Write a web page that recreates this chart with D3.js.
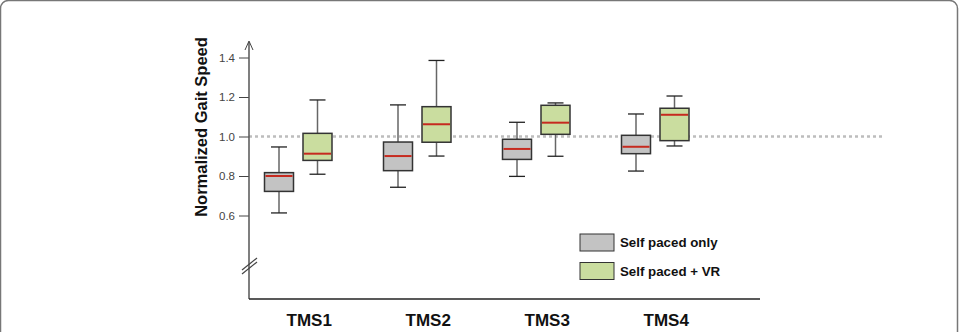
<!DOCTYPE html>
<html lang="en">
<head>
<meta charset="UTF-8">
<title>Normalized Gait Speed</title>
<script src="https://cdn.jsdelivr.net/npm/d3@7"></script>
<style>
  html, body { margin: 0; padding: 0; background: #fff; }
  svg { display: block; font-family: "Liberation Sans", Arial, sans-serif; }
  .tick text { font-size: 11.5px; fill: #444; }
  .tick line { stroke: #444; }
</style>
</head>
<body>
<svg id="chart" width="961" height="332"></svg>
<script>
// data
const categories = ['TMS1', 'TMS2', 'TMS3', 'TMS4']
const series = ['Self paced only', 'Self paced + VR']
const colors = ['#c3c3c3', '#cadd9f']
const yTicks = [0.6, 0.8, 1.0, 1.2, 1.4]

// whisker low, q1, median, q3, whisker high
const selfLow = [0.613, 0.743, 0.798, 0.825]
const selfQ1 = [0.722, 0.827, 0.884, 0.913]
const selfMed = [0.800, 0.901, 0.937, 0.948]
const selfQ3 = [0.817, 0.972, 0.986, 1.006]
const selfHigh = [0.947, 1.160, 1.072, 1.114]

const vrLow = [0.809, 0.901, 0.900, 0.952]
const vrQ1 = [0.879, 0.971, 1.011, 0.979]
const vrMed = [0.913, 1.062, 1.070, 1.110]
const vrQ3 = [1.016, 1.151, 1.158, 1.143]
const vrHigh = [1.185, 1.385, 1.170, 1.205]

const stats = [
  { low: selfLow, q1: selfQ1, med: selfMed, q3: selfQ3, high: selfHigh },
  { low: vrLow, q1: vrQ1, med: vrMed, q3: vrQ3, high: vrHigh }
]

const svg = d3.select('#chart')

// outer frame
svg.append('rect')
  .attr('x', 0.5).attr('y', 0.5)
  .attr('width', 957).attr('height', 345)
  .attr('rx', 8)
  .attr('fill', 'none')
  .attr('stroke', '#777')
  .attr('stroke-width', 1.5)

const axisX = 249
const axisBottom = 299

const y = d3.scaleLinear()
  .domain([0.6, 1.4])
  .range([215.5, 57.5])

const x = d3.scaleBand()
  .domain(categories)
  .range([259.75, 259.75 + 4 * 119])

const sub = d3.scaleBand()
  .domain(series)
  .range([0, 77])

const boxW = 29
const capW = 16

// reference line at 1.0
svg.append('line')
  .attr('x1', axisX).attr('x2', 885)
  .attr('y1', y(1)).attr('y2', y(1))
  .attr('stroke', '#bdbdbd')
  .attr('stroke-width', 2.5)
  .attr('stroke-dasharray', '3,3')

// y axis
const yAxis = d3.axisLeft(y)
  .tickValues(yTicks)
  .tickFormat(d3.format('.1f'))
  .tickSize(10)
  .tickPadding(4)

const yg = svg.append('g')
  .attr('transform', `translate(${axisX},0)`)
  .call(yAxis)
yg.select('.domain').remove()

svg.append('line')
  .attr('x1', axisX).attr('x2', axisX)
  .attr('y1', 42).attr('y2', axisBottom)
  .attr('stroke', '#555')
  .attr('stroke-width', 1.5)

// arrow head
svg.append('path')
  .attr('d', `M${axisX - 4},${50} L${axisX},${41} L${axisX + 4},${50}`)
  .attr('fill', 'none')
  .attr('stroke', '#444')
  .attr('stroke-width', 1)

// axis break
const br = svg.append('g').attr('stroke', '#444').attr('stroke-width', 1.2)
br.append('line').attr('x1', 242).attr('y1', 270).attr('x2', 257).attr('y2', 258)
br.append('line').attr('x1', 242).attr('y1', 274).attr('x2', 257).attr('y2', 262)

// x axis line
svg.append('line')
  .attr('x1', axisX).attr('x2', 760)
  .attr('y1', axisBottom).attr('y2', axisBottom)
  .attr('stroke', '#222')
  .attr('stroke-width', 1.5)

// y label
svg.append('text')
  .attr('transform', `translate(207,127) rotate(-90)`)
  .attr('text-anchor', 'middle')
  .attr('font-size', 16.5)
  .attr('font-weight', 'bold')
  .attr('fill', '#111')
  .text('Normalized Gait Speed')

// boxes
series.forEach((s, si) => {
  const st = stats[si]
  const g = svg.append('g')
  categories.forEach((c, i) => {
    const cx = x(c) + sub(s) + sub.bandwidth() / 2
    // whiskers
    g.append('line')
      .attr('x1', cx).attr('x2', cx)
      .attr('y1', y(st.high[i])).attr('y2', y(st.low[i]))
      .attr('stroke', '#666').attr('stroke-width', 1.5)
    ;[st.high[i], st.low[i]].forEach(v => {
      g.append('line')
        .attr('x1', cx - capW / 2).attr('x2', cx + capW / 2)
        .attr('y1', y(v)).attr('y2', y(v))
        .attr('stroke', '#222').attr('stroke-width', 1.3)
    })
    g.append('rect')
      .attr('x', cx - boxW / 2)
      .attr('y', y(st.q3[i]))
      .attr('width', boxW)
      .attr('height', y(st.q1[i]) - y(st.q3[i]))
      .attr('fill', colors[si])
      .attr('stroke', '#333')
      .attr('stroke-width', 1.5)
    g.append('line')
      .attr('x1', cx - boxW / 2 + 1).attr('x2', cx + boxW / 2 - 1)
      .attr('y1', y(st.med[i])).attr('y2', y(st.med[i]))
      .attr('stroke', '#c62a1f').attr('stroke-width', 2)
  })
})

// category labels
svg.append('g').selectAll('text')
  .data(categories)
  .join('text')
  .attr('x', d => x(d) + x.bandwidth() / 2 - 10)
  .attr('y', 326)
  .attr('text-anchor', 'middle')
  .attr('font-size', 17)
  .attr('font-weight', 'bold')
  .attr('fill', '#111')
  .text(d => d)

// legend
const legend = svg.append('g').attr('transform', 'translate(580,234)')
series.forEach((s, i) => {
  const row = legend.append('g').attr('transform', `translate(0,${i * 28.5})`)
  row.append('rect')
    .attr('width', 34).attr('height', 17)
    .attr('fill', colors[i])
    .attr('stroke', '#333')
    .attr('stroke-width', 1)
  row.append('text')
    .attr('x', 40).attr('y', 13)
    .attr('font-size', 13.3)
    .attr('font-weight', 'bold')
    .attr('fill', '#111')
    .text(s)
})
</script>
</body>
</html>
